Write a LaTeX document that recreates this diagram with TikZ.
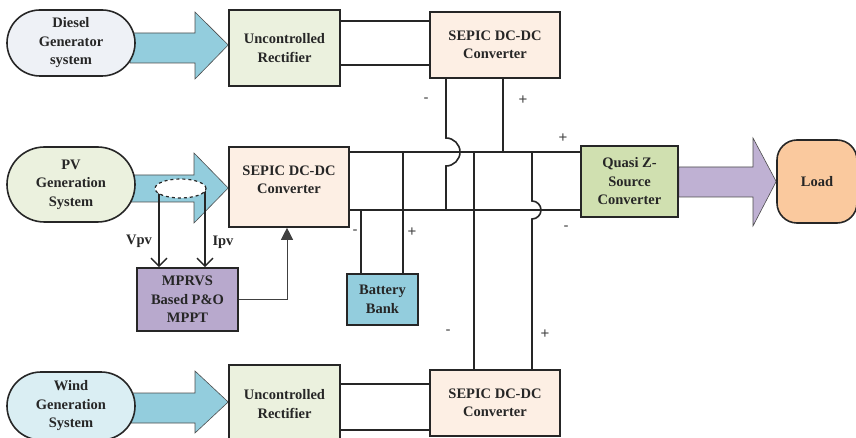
\documentclass[tikz,border=0pt]{standalone}
\usepackage{fontspec}
\setmainfont{Liberation Serif}
\newfontfamily\signfont{Liberation Sans}
\usepackage{xcolor}
\usetikzlibrary{arrows.meta,positioning,shapes.geometric,shapes.misc,backgrounds}

\definecolor{dieselfill}{HTML}{EEF1F6}
\definecolor{pvfill}{HTML}{EBF1DE}
\definecolor{windfill}{HTML}{DAEEF3}
\definecolor{rectfill}{HTML}{EBF1DE}
\definecolor{sepicfill}{HTML}{FDEFE4}
\definecolor{qzsfill}{HTML}{D0E0B0}
\definecolor{loadfill}{HTML}{FAC99E}
\definecolor{battfill}{HTML}{93CDDD}
\definecolor{mpptfill}{HTML}{B8A9CD}
\definecolor{arrowblue}{HTML}{93CDDD}
\definecolor{arrowlilac}{HTML}{BFB1D3}

\tikzset{
  boxtext/.style={font=\bfseries\fontsize{14.5}{18.5}\selectfont, align=center, text=black!85},
  block/.style={boxtext, draw=black!85, line width=1.6pt, inner sep=0pt},
  source/.style={block, rounded rectangle},
  wire/.style={draw=black!85, line width=1.6pt},
  sign/.style={font=\signfont\fontsize{15}{15}\selectfont, text=black!75},
  fatarrow/.style={draw=black!70, line width=0.6pt},
  sig/.style={draw=black!85, line width=1.4pt, -{Straight Barb[length=8pt,width=16pt]}},
  fb/.style={draw=black!75, line width=0.8pt, -{Triangle[length=12pt,width=12pt]}}
}

\begin{document}
\begin{tikzpicture}[x=1pt, y=-1pt]
  \useasboundingbox (0,0) rectangle (856,438);
  \clip (0,0) rectangle (856,438);

  % sources
  \node[source, fill=dieselfill, minimum width=128pt, minimum height=66pt] (diesel) at (71,43) {Diesel\\Generator\\system};
  \node[source, fill=pvfill, minimum width=128pt, minimum height=75pt] (pv) at (71,184.5) {PV\\Generation\\System};
  \node[source, fill=windfill, minimum width=128pt, minimum height=68pt] (wind) at (71,406) {Wind\\Generation\\System};

  % converters
  \node[block, fill=rectfill, minimum width=111pt, minimum height=76pt] (rect1) at (284.5,48) {Uncontrolled\\Rectifier};
  \node[block, fill=rectfill, minimum width=111pt, minimum height=78pt] (rect2) at (284.5,404) {Uncontrolled\\Rectifier};
  \node[block, fill=sepicfill, minimum width=130pt, minimum height=66pt] (sepic1) at (495,45) {SEPIC DC-DC\\Converter};
  \node[block, fill=sepicfill, minimum width=120pt, minimum height=80pt,
        label={[boxtext, yshift=7pt]center:SEPIC DC-DC\\Converter}] (sepic2) at (289,187) {};
  \node[block, fill=sepicfill, minimum width=130pt, minimum height=66pt] (sepic3) at (495,403) {SEPIC DC-DC\\Converter};
  \node[block, fill=qzsfill, minimum width=97pt, minimum height=71pt] (qzs) at (629.5,181.5) {Quasi Z-\\Source\\Converter};
  \node[block, fill=loadfill, rounded corners=20pt, minimum width=80pt, minimum height=83pt] (load) at (817,181.5) {Load};
  \node[block, fill=battfill, minimum width=71pt, minimum height=51pt] (battery) at (382.5,299.5) {Battery\\Bank};
  \node[block, fill=mpptfill, minimum width=101pt, minimum height=63pt] (mppt) at (187.5,299.5) {MPRVS\\Based P\&O\\MPPT};

  % block arrows
  \begin{scope}[on background layer]
    \draw[fatarrow, fill=arrowblue] (130,33) -- (195,33) -- (195,12) -- (rect1.west |- 0,45)
      -- (195,79) -- (195,63) -- (130,63) -- cycle;
    \draw[fatarrow, fill=arrowblue] (130,175) -- (194,175) -- (194,153) -- (sepic2.west |- 0,188)
      -- (194,223) -- (194,202) -- (130,202) -- cycle;
    \draw[fatarrow, fill=arrowblue] (130,393) -- (195,393) -- (195,371) -- (rect2.west |- 0,402)
      -- (195,433) -- (195,423) -- (130,423) -- cycle;
    \draw[fatarrow, fill=arrowlilac] (qzs.east |- 0,167) -- (753,167) -- (753,138) -- (load.west)
      -- (753,226) -- (753,197) -- (qzs.east |- 0,197) -- cycle;
  \end{scope}

  % rectifier to sepic
  \draw[wire] (rect1.east |- 0,21) -- (sepic1.west |- 0,21);
  \draw[wire] (rect1.east |- 0,65) -- (sepic1.west |- 0,65);
  \draw[wire] (rect2.east |- 0,384) -- (sepic3.west |- 0,384);
  \draw[wire] (rect2.east |- 0,430) -- (sepic3.west |- 0,430);

  % dc bus
  \draw[wire] (sepic2.east |- 0,152) -- (qzs.west |- 0,152);
  \draw[wire] (sepic2.east |- 0,210) -- (qzs.west |- 0,210);
  \draw[wire] (sepic1.south -| 446,0) -- (446,138) arc[start angle=-90, end angle=90, radius=14] -- (446,210);
  \draw[wire] (sepic1.south -| 503,0) -- (503,152);
  \draw[wire] (403,152) -- (battery.north -| 403,0);
  \draw[wire] (361,210) -- (battery.north -| 361,0);
  \draw[wire] (474,152) -- (sepic3.north -| 474,0);
  \draw[wire] (532,152) -- (532,201) arc[start angle=-90, end angle=90, radius=9] -- (sepic3.north -| 532,0);

  % polarity marks
  \node[sign] (s1m) at (426,100) {-};
  \node[sign] (s1p) at (523,100) {+};
  \node[sign] (qp) at (563,138) {+};
  \node[sign] (qm) at (566,228) {-};
  \node[sign] (bm) at (355,232) {-};
  \node[sign] (bp) at (412,232) {+};
  \node[sign] (s3m) at (448,332) {-};
  \node[sign] (s3p) at (545,334) {+};

  % mppt sensing
  \draw[sig] (159,188) -- (159,0 |- mppt.north);
  \draw[sig] (205,188) -- (205,0 |- mppt.north);
  \node[draw=black!85, fill=white, dashed, line width=1.2pt, ellipse, minimum width=51pt, minimum height=19pt, inner sep=0pt] (sensor) at (180.5,188.5) {};
  \node[boxtext] (vpv) at (139,241) {Vpv};
  \node[boxtext] (ipv) at (223,242) {Ipv};
  \draw[fb] (mppt.east) -| (287,0 |- sepic2.south);
\end{tikzpicture}
\end{document}
